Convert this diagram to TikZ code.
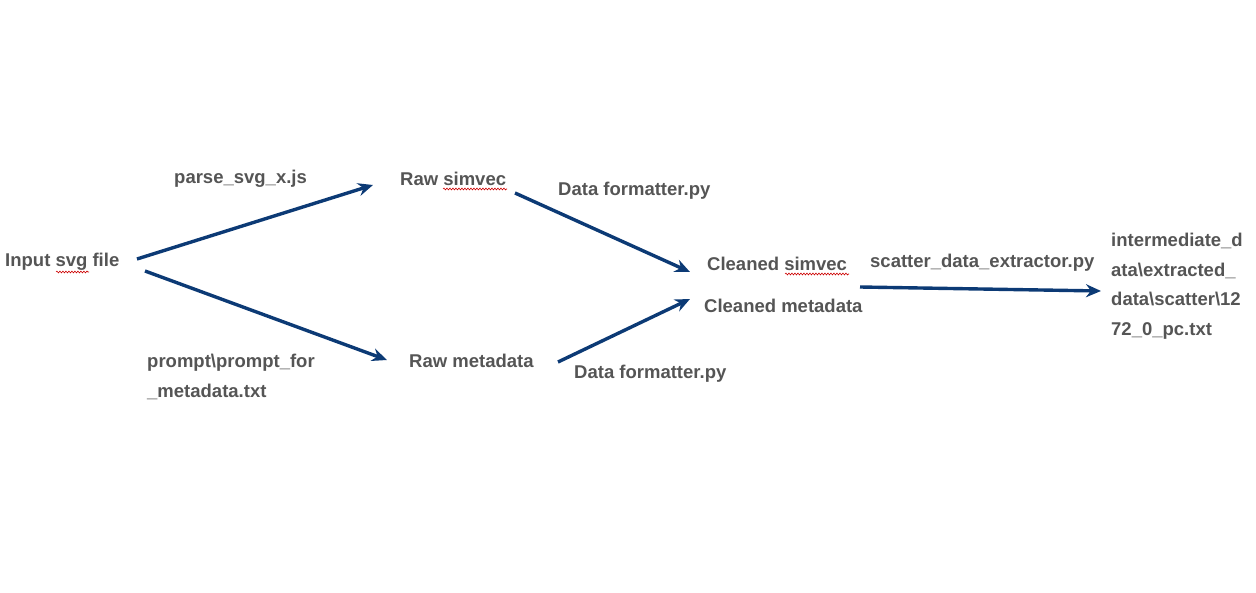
\documentclass[tikz,border=0pt]{standalone}
\usepackage{fontspec}
\setmainfont{Liberation Sans}
\usetikzlibrary{arrows.meta,decorations.pathmorphing}
\definecolor{txtgray}{RGB}{85,85,85}
\definecolor{arrblue}{RGB}{12,58,117}
\tikzset{
  lbl/.style={anchor=west,inner sep=0pt,text=txtgray,font=\bfseries\fontsize{18.5}{29.5}\selectfont,align=left},
  flow/.style={draw=arrblue,line width=3.4pt,-{Stealth[length=15pt,width=13pt,inset=5pt]}},
  spell/.style={draw=red!80!black,line width=0.6pt,decorate,decoration={snake,segment length=3pt,amplitude=0.9pt}}
}
\begin{document}
\begin{tikzpicture}[x=1pt,y=-1pt]
\useasboundingbox (0,0) rectangle (1256,593);
\node[lbl] (input) at (5,262) {Input svg file};
\node[lbl] (parse) at (174,179) {parse\_svg\_x.js};
\node[lbl] (rawsim) at (400,179) {Raw simvec};
\node[lbl] (fmt1) at (558,191) {Data formatter.py};
\node[lbl] (cleansim) at (707,264) {Cleaned simvec};
\node[lbl] (cleanmeta) at (704,306) {Cleaned metadata};
\node[lbl] (scatter) at (870,263) {scatter\_data\_extractor.py};
\node[lbl,anchor=north west] (out) at (1111,233) {intermediate\_d\\ata\textbackslash extracted\_\\data\textbackslash scatter\textbackslash 12\\72\_0\_pc.txt};
\node[lbl] (rawmeta) at (409,361) {Raw metadata};
\node[lbl] (fmt2) at (574,374) {Data formatter.py};
\node[lbl,anchor=north west] (prompt) at (147,354) {prompt\textbackslash prompt\_for\\\_metadata.txt};

\coordinate (a1s) at (137,259);
\coordinate (a1e) at (373,185);
\coordinate (a2s) at (145,271);
\coordinate (a2e) at (387,360);
\coordinate (a3s) at (515,193);
\coordinate (a3e) at (690,272);
\coordinate (a4s) at (558,362);
\coordinate (a4e) at (690,299);
\coordinate (a5s) at (860,287);
\coordinate (a5e) at (1101,291);
\draw[flow] (a1s) -- (a1e);
\draw[flow] (a2s) -- (a2e);
\draw[flow] (a3s) -- (a3e);
\draw[flow] (a4s) -- (a4e);
\draw[flow] (a5s) -- (a5e);

\coordinate (s1a) at (56,272);
\coordinate (s1b) at (89,272);
\coordinate (s2a) at (443,189);
\coordinate (s2b) at (507,189);
\coordinate (s3a) at (785,274);
\coordinate (s3b) at (849,274);
\draw[spell] (s1a) -- (s1b);
\draw[spell] (s2a) -- (s2b);
\draw[spell] (s3a) -- (s3b);
\end{tikzpicture}
\end{document}
